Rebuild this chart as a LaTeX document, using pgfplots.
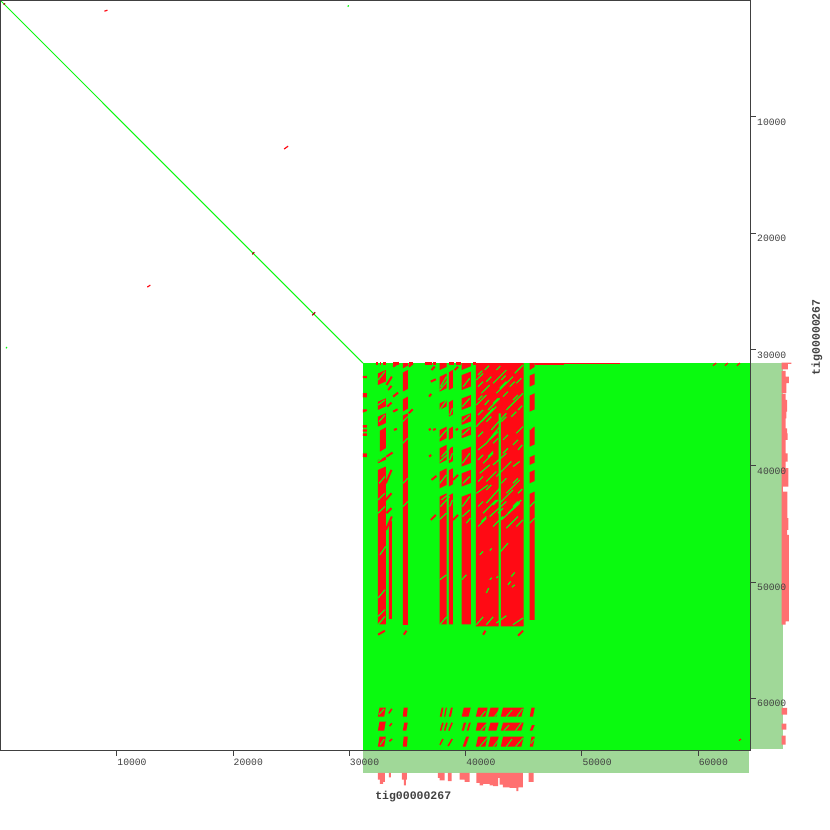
\documentclass[border=0pt]{standalone}
\usepackage{fontspec}
\usepackage{pgfplots}
\pgfplotsset{compat=1.18}
\newfontfamily\tickfont{Liberation Mono}
\definecolor{dotgreen}{HTML}{0AFA0F}
\definecolor{dotred}{HTML}{FF0A14}
\definecolor{panelgreen}{HTML}{A0D898}
\definecolor{histred}{HTML}{FF7070}
\definecolor{framegray}{HTML}{404040}
\begin{document}
\begin{tikzpicture}[x=1pt,y=1pt]
\path[use as bounding box] (0,0) rectangle (830,-830);
\begin{axis}[
at={(0.5pt,-0.5pt)}, anchor=north west,
width=750pt, height=750pt, scale only axis,
xmin=0, xmax=64510, ymin=0, ymax=64490,
y dir=reverse, clip=false, axis on top,
xtick={10000,20000,30000,40000,50000,60000},
ytick={10000,20000,30000,40000,50000,60000},
xtick pos=bottom, ytick pos=right, yticklabel pos=right,
tick align=outside, major tick length=5pt,
scaled ticks=false,
/pgf/number format/1000 sep={},
/pgf/number format/assume math mode=true,
axis line style={framegray,line width=1pt},
tick style={framegray,line width=1pt},
every tick label/.append style={font=\tickfont\fontsize{9.7}{10}\selectfont,text=framegray,inner sep=0pt},
xticklabel style={anchor=north west,xshift=0.5pt,yshift=-3pt},
yticklabel style={anchor=north west,xshift=1.5pt,yshift=-2pt},
xlabel={tig00000267}, ylabel={tig00000267},
every axis x label/.style={at={(axis description cs:0.5503,-0.062)},anchor=center},
every axis y label/.style={at={(axis description cs:1.0886,0.551)},anchor=center,rotate=90},
label style={font=\tickfont\bfseries\fontsize{11.5}{12}\selectfont,text=framegray},
unbounded coords=jump,
]
% side panels
\addplot[fill=panelgreen,draw=none] coordinates {(64520,31170)(67275,31170)(67275,64330)(64520,64330)};
\addplot[fill=panelgreen,draw=none] coordinates {(31170,64520)(64350,64520)(64350,66440)(31170,66440)};
% coverage along x
\addplot[fill=histred,draw=none] coordinates {
(32460,66420)(32460,66990)(32630,66990)(32630,67360)(32910,67360)(32910,67190)(33060,67190)(33060,66420)(nan,nan)
(33400,66420)(33400,66790)(33570,66790)(33570,66420)(nan,nan)
(34520,66420)(34520,66990)(34690,66990)(34690,67480)(34860,67480)(34860,66990)(34950,66990)(34950,66420)(nan,nan)
(37610,66420)(37610,66850)(37780,66850)(37780,67050)(38210,67050)(38210,66420)(nan,nan)
(38470,66420)(38470,67130)(38810,67130)(38810,66420)(nan,nan)
(39500,66420)(39500,66990)(39930,66990)(39930,67190)(40360,67190)(40360,66420)(nan,nan)
(40930,66420)(40930,67280)(41220,67280)(41220,67480)(41510,67480)(41510,67360)(42080,67360)(42080,67480)(42370,67480)(42370,67560)(42800,67560)(42800,66850)(42940,66850)(42940,67420)(43220,67420)(43220,67650)(43800,67650)(43800,67710)(44370,67710)(44370,67990)(44540,67990)(44540,67650)(44940,67650)(44940,66420)(nan,nan)
(45430,66420)(45430,67190)(45860,67190)(45860,66420)
};
% coverage along y
\addplot[fill=histred,draw=none] coordinates {
(67190,31130)(68020,31130)(68020,31250)(67730,31250)(67730,31710)(67190,31710)(nan,nan)
(67190,31850)(67530,31850)(67530,32340)(67820,32340)(67820,32910)(67590,32910)(67590,33770)(67190,33770)(nan,nan)
(67190,33830)(67530,33830)(67530,34340)(67650,34340)(67650,35350)(67590,35350)(67590,35920)(67530,35920)(67530,36780)(67650,36780)(67650,37210)(67700,37210)(67700,37780)(67530,37780)(67530,38930)(67700,38930)(67700,39640)(67530,39640)(67530,40210)(67760,40210)(67760,41790)(67300,41790)(67300,42220)(67680,42220)(67680,44510)(67760,44510)(67760,45510)(67650,45510)(67650,45940)(67820,45940)(67820,53390)(67530,53390)(67530,53670)(67190,53670)(nan,nan)
(67190,60830)(67650,60830)(67650,61410)(67190,61410)(nan,nan)
(67190,62180)(67590,62180)(67590,62700)(67190,62700)(nan,nan)
(67190,63210)(67530,63210)(67530,63980)(67190,63980)
};
% main diagonal
\addplot[dotgreen,line width=1pt] coordinates {(0,0)(31180,31180)};
% the repeat block
\addplot[fill=dotgreen,draw=none] coordinates {(31170,31170)(64510,31170)(64510,64490)(31170,64490)};
% red blocks
\addplot[fill=dotred,draw=none] coordinates {
(32460,33060)(33140,32760)(33140,31770)(32460,32070)(nan,nan)
(32460,35200)(33140,34900)(33140,34200)(32460,34500)(nan,nan)
(32460,36640)(33140,36340)(33140,35490)(32460,35790)(nan,nan)
(32630,38790)(33140,38490)(33140,36700)(32630,37000)(nan,nan)
(32460,39790)(33140,39490)(33140,39220)(32460,39520)(nan,nan)
(32460,53650)(33140,53650)(33140,40070)(32460,40370)(nan,nan)
(33400,53180)(33660,53180)(33660,44700)(33400,45000)(nan,nan)
(34600,31630)(35030,31400)(35030,31190)(34600,31190)(nan,nan)
(34600,33630)(35030,33400)(35030,31770)(34600,32000)(nan,nan)
(34600,35350)(35030,35100)(35030,34060)(34600,34300)(nan,nan)
(34600,53680)(35030,53680)(35030,35490)(34600,35700)(nan,nan)
(37780,31770)(38380,31500)(38380,31190)(37780,31190)(nan,nan)
(37780,33630)(38380,33330)(38380,32060)(37780,32360)(nan,nan)
(37780,35200)(38380,34900)(38380,34350)(37780,34650)(nan,nan)
(37780,37930)(38380,37630)(38380,36640)(37780,36940)(nan,nan)
(37780,39790)(38380,39490)(38380,38210)(37780,38510)(nan,nan)
(37780,41940)(38380,41640)(38380,40220)(37780,40520)(nan,nan)
(37780,53650)(38380,53650)(38380,42370)(37780,42670)(nan,nan)
(38560,33490)(38900,33300)(38900,31770)(38560,31960)(nan,nan)
(38560,35780)(38900,35590)(38900,34350)(38560,34540)(nan,nan)
(38560,37780)(38900,37590)(38900,36640)(38560,36830)(nan,nan)
(38560,39790)(38900,39600)(38900,38360)(38560,38550)(nan,nan)
(38560,41790)(38900,41600)(38900,40220)(38560,40410)(nan,nan)
(38560,53650)(38900,53650)(38900,42370)(38560,42560)(nan,nan)
(39670,31770)(40450,31450)(40450,31190)(39670,31190)(nan,nan)
(39670,33490)(40450,33190)(40450,31910)(39670,32210)(nan,nan)
(39670,35200)(40450,34900)(40450,33920)(39670,34220)(nan,nan)
(39670,36490)(40450,36190)(40450,35490)(39670,35790)(nan,nan)
(39670,37640)(40450,37340)(40450,36640)(39670,36940)(nan,nan)
(39670,40070)(40450,39770)(40450,38360)(39670,38660)(nan,nan)
(39670,41790)(40450,41490)(40450,40360)(39670,40660)(nan,nan)
(39670,53650)(40450,53650)(40450,42370)(39670,42670)(nan,nan)
(40880,53820)(42840,53820)(42840,31190)(40880,31190)(nan,nan)
(43030,53820)(45000,53820)(45000,31190)(43030,31190)(nan,nan)
(42840,35490)(43030,35490)(43030,31190)(42840,31190)(nan,nan)
(45520,31770)(45950,31500)(45950,31190)(45520,31190)(nan,nan)
(45520,33200)(45950,33000)(45950,32060)(45520,32260)(nan,nan)
(45520,35350)(45950,35150)(45950,33770)(45520,33970)(nan,nan)
(45520,38360)(45950,38160)(45950,36640)(45520,36840)(nan,nan)
(45520,39930)(45950,39730)(45950,39070)(45520,39270)(nan,nan)
(45520,41510)(45950,41310)(45950,40360)(45520,40560)(nan,nan)
(45520,53250)(45950,53250)(45950,42220)(45520,42420)(nan,nan)
(31170,32460)(31510,32460)(31510,32280)(31170,32280)(nan,nan)
(31170,34120)(31510,34120)(31510,33770)(31170,33770)(nan,nan)
(31170,35430)(31510,35300)(31510,35150)(31170,35150)(nan,nan)
(31170,36720)(31510,36720)(31510,36520)(31170,36520)(nan,nan)
(31170,37070)(31510,37070)(31510,36870)(31170,36870)(nan,nan)
(31170,37440)(31510,37440)(31510,37210)(31170,37210)(nan,nan)
(31170,39270)(31510,39270)(31510,38930)(31170,38930)(nan,nan)
(32460,61580)(33000,61580)(33140,60800)(32600,60800)(nan,nan)
(34600,61580)(34950,61580)(35030,60800)(34680,60800)(nan,nan)
(37780,61580)(37950,61580)(38100,60800)(37950,60800)(nan,nan)
(38150,61580)(38250,61580)(38400,60800)(38300,60800)(nan,nan)
(38560,61580)(38750,61580)(38900,60800)(38750,60800)(nan,nan)
(39670,61580)(40250,61580)(40450,60800)(39850,60800)(nan,nan)
(40880,61580)(41700,61580)(41900,60800)(41080,60800)(nan,nan)
(41950,61580)(42650,61580)(42850,60800)(42150,60800)(nan,nan)
(43030,61580)(44800,61580)(45000,60800)(43230,60800)(nan,nan)
(45520,61580)(45800,61580)(45950,60800)(45670,60800)(nan,nan)
(32460,62780)(33000,62780)(33140,62000)(32600,62000)(nan,nan)
(34600,62780)(34900,62780)(35030,62090)(34730,62090)(nan,nan)
(39670,62780)(39850,62780)(40050,62090)(39850,62090)(nan,nan)
(40100,62780)(40250,62780)(40450,62090)(40300,62090)(nan,nan)
(40880,62780)(41650,62780)(41800,62090)(41030,62090)(nan,nan)
(41950,62780)(42650,62780)(42850,62090)(42150,62090)(nan,nan)
(43030,62780)(44800,62780)(45000,62090)(43230,62090)(nan,nan)
(45520,62780)(45750,62780)(45950,62300)(45720,62300)(nan,nan)
(32460,64160)(33000,64160)(33140,63300)(32600,63300)(nan,nan)
(34600,64160)(34950,64160)(35030,63300)(34680,63300)(nan,nan)
(39750,64160)(40000,64160)(40300,63300)(40050,63300)(nan,nan)
(40880,64160)(41700,64160)(41900,63300)(41080,63300)(nan,nan)
(41950,64160)(42650,64160)(42850,63300)(42150,63300)(nan,nan)
(43030,64160)(44800,64160)(45000,63300)(43230,63300)(nan,nan)
(45520,64160)(45800,64160)(45950,63300)(45670,63300)
};
% red strip on the top edge
\addplot[dotred,line width=3pt] coordinates {
(32340,31240)(32480,31240)(nan,nan)(32630,31240)(32770,31240)(nan,nan)(32910,31240)(33140,31240)(nan,nan)
(33770,31240)(34260,31240)(nan,nan)(35120,31240)(35460,31240)(nan,nan)
(36490,31240)(37100,31240)(nan,nan)(37210,31240)(37440,31240)(nan,nan)
(38560,31240)(38990,31240)(nan,nan)(39150,31240)(39590,31240)(nan,nan)(40620,31240)(40880,31240)
};
\addplot[dotred,line width=2pt] coordinates {(45990,31240)(48500,31240)};
\addplot[dotred,line width=1pt] coordinates {(48500,31210)(53270,31210)};
% red streaks
\addplot[dotred,line width=2pt] coordinates {
(33200,33060)(33660,32340)(nan,nan)(33260,34920)(33630,34580)(nan,nan)(33340,33490)(33630,33140)(nan,nan)
(33200,39220)(33720,38870)(nan,nan)(33140,41510)(33630,40360)(nan,nan)(33140,42940)(33630,42370)(nan,nan)
(33200,44080)(33630,43650)(nan,nan)(33140,45520)(33660,44370)(nan,nan)
(33770,31480)(34260,31140)(nan,nan)(33770,34060)(34200,33720)(nan,nan)(33770,35350)(34150,35150)(nan,nan)
(33830,36920)(34090,36840)(nan,nan)(35120,35490)(35460,35150)(nan,nan)(35120,31480)(35460,31200)(nan,nan)
(36870,39220)(37040,39070)(nan,nan)(36870,34060)(37040,33830)(nan,nan)(36840,36920)(37010,36840)(nan,nan)
(37210,36920)(37440,36840)(nan,nan)(39150,36920)(39360,36840)(nan,nan)(37070,41220)(37500,40880)(nan,nan)
(37010,44660)(37440,44230)(nan,nan)(38930,41220)(39360,40790)(nan,nan)(38930,44660)(39360,44230)(nan,nan)
(37010,32770)(37440,32570)(nan,nan)(37070,31770)(37350,31480)(nan,nan)(39070,31770)(39360,31480)(nan,nan)
(32480,54530)(33060,54190)(nan,nan)(34690,54530)(34920,54190)(nan,nan)(41510,54530)(41710,54190)(nan,nan)
(44510,54620)(44940,54190)
};
\addplot[dotred,line width=1.2pt] coordinates {
(8940,920)(9200,830)(nan,nan)(24400,12770)(24740,12520)(nan,nan)(12630,24640)(12890,24470)(nan,nan)
(61280,31400)(61560,31170)(nan,nan)(62310,31400)(62550,31170)(nan,nan)(63340,31400)(63600,31170)(nan,nan)
(63520,63640)(63690,63500)
};
\addplot[dotred!65!black,line width=1.2pt] coordinates {
(260,340)(400,260)(nan,nan)(21650,21830)(21830,21650)(nan,nan)(26810,27060)(27060,26810)
};
\addplot[dotgreen,line width=1.2pt] coordinates {(29860,520)(29960,430)(nan,nan)(470,29900)(560,29800)};
% green diagonals across the red
\addplot[dotgreen,line width=1.2pt] coordinates {
(40930,32630)(41510,32060)(nan,nan)(41360,33770)(42080,33060)(nan,nan)(40930,34780)(41790,33920)(nan,nan)
(42370,32910)(43510,31770)(nan,nan)(42650,33770)(44080,32340)(nan,nan)(41940,35210)(42940,34200)(nan,nan)
(40930,36640)(42370,35060)(nan,nan)(41360,36210)(42650,34920)(nan,nan)(42220,36920)(43510,35490)(nan,nan)
(41080,38640)(41790,38070)(nan,nan)(41510,39790)(42370,38930)(nan,nan)(41790,38070)(42940,36640)(nan,nan)
(42080,37780)(42800,37070)(nan,nan)(42940,33340)(43510,32770)(nan,nan)(44230,32060)(44940,31340)(nan,nan)
(43510,35210)(44940,33770)(nan,nan)(44370,37210)(44940,36640)(nan,nan)(42370,39930)(43510,38930)(nan,nan)
(41220,40650)(42080,39930)(nan,nan)(41790,41360)(42650,40500)(nan,nan)(42650,40930)(43650,39930)(nan,nan)
(44080,40070)(44660,39640)(nan,nan)(40930,42370)(41940,41650)(nan,nan)(41790,43220)(42940,41940)(nan,nan)
(42940,43220)(44080,42080)(nan,nan)(43510,42370)(44660,41220)(nan,nan)(41510,44080)(42650,42940)(nan,nan)
(42080,44370)(43510,43080)(nan,nan)(43080,44660)(44660,43220)(nan,nan)(43650,44080)(44800,42940)(nan,nan)
(41080,45230)(41790,44510)(nan,nan)(42370,45230)(43220,44370)(nan,nan)(43510,45370)(44370,44510)(nan,nan)
(44370,45230)(44940,44660)(nan,nan)
(41080,32200)(41450,31830)(nan,nan)(41650,31770)(42020,31400)(nan,nan)(42650,31770)(42990,31430)(nan,nan)
(41080,33200)(41510,32770)(nan,nan)(41790,32770)(42220,32340)(nan,nan)(43080,32630)(43450,32250)(nan,nan)
(43800,33200)(44230,32770)(nan,nan)(44370,32910)(44800,32480)(nan,nan)(44370,31910)(44710,31570)(nan,nan)
(41080,34350)(41450,33970)(nan,nan)(41650,34780)(42020,34350)(nan,nan)(42370,34630)(42800,34200)(nan,nan)
(43220,34060)(43650,33630)(nan,nan)(44080,34350)(44510,33920)(nan,nan)(41080,35630)(41510,35210)(nan,nan)
(41790,36210)(42220,35780)(nan,nan)(43080,36210)(43510,35780)(nan,nan)(43940,35780)(44370,35350)(nan,nan)
(41080,37500)(41510,37070)(nan,nan)(42370,38070)(42800,37640)(nan,nan)(43220,37780)(43650,37350)(nan,nan)
(44080,38210)(44510,37780)(nan,nan)(41080,39500)(41510,39070)(nan,nan)(41940,39220)(42370,38780)(nan,nan)
(43220,38930)(43650,38500)(nan,nan)(41080,41360)(41510,40930)(nan,nan)(43080,41510)(43510,41080)(nan,nan)
(44080,41510)(44510,41080)(nan,nan)(41080,43510)(41510,43080)(nan,nan)(42370,43370)(42800,42940)(nan,nan)
(44080,43510)(44510,43080)(nan,nan)(41360,44800)(41790,44370)(nan,nan)(42800,44080)(43220,43650)(nan,nan)
(44080,44800)(44510,44370)(nan,nan)(41790,42080)(42220,41650)(nan,nan)(44510,42370)(44880,42000)(nan,nan)
(44510,35210)(44880,34830)(nan,nan)(44510,38640)(44880,38210)(nan,nan)(43510,40070)(43940,39640)(nan,nan)
(41220,47660)(41510,47370)(nan,nan)(43030,47370)(43650,46660)(nan,nan)(42080,47290)(42250,47110)(nan,nan)
(43940,49520)(44230,49180)(nan,nan)(42080,49810)(42250,49630)(nan,nan)(42650,49660)(42800,49520)(nan,nan)
(43650,50240)(43880,49950)(nan,nan)(44000,50440)(44230,50240)(nan,nan)(41790,50950)(41990,50520)(nan,nan)
(32630,47660)(33140,46940)(nan,nan)(32480,51380)(33060,50670)(nan,nan)(32480,52960)(33060,52380)(nan,nan)
(37780,49810)(38360,49380)(nan,nan)(39670,49810)(40070,49380)(nan,nan)
(40930,53670)(41510,53000)(nan,nan)(41790,53670)(42370,53000)(nan,nan)(42650,53530)(43510,52900)(nan,nan)
(44080,53670)(44940,53100)(nan,nan)(32480,53670)(33060,52960)(nan,nan)(37780,53670)(38380,53000)(nan,nan)
(37780,33490)(38500,32630)(nan,nan)(37840,33200)(38360,32340)(nan,nan)(37730,37640)(38360,36920)(nan,nan)
(37780,39640)(38410,39070)(nan,nan)(37930,39220)(38640,38500)(nan,nan)(37780,41510)(38360,40790)(nan,nan)
(37730,44660)(38360,44080)(nan,nan)(37840,43510)(38640,42650)(nan,nan)(37930,42940)(38640,42370)(nan,nan)
(37780,35210)(38360,34350)(nan,nan)(38640,35640)(38870,35060)(nan,nan)(38640,39500)(38870,38930)(nan,nan)
(38640,43510)(38870,42940)(nan,nan)
(39790,33200)(40360,32480)(nan,nan)(39730,34920)(40360,34200)(nan,nan)(39730,36210)(40360,35640)(nan,nan)
(39730,37350)(40360,36780)(nan,nan)(39730,39790)(40360,38930)(nan,nan)(39790,41510)(40360,40930)(nan,nan)
(39730,43510)(40360,42650)(nan,nan)(39730,44370)(40360,43800)(nan,nan)(40070,44940)(40420,44510)(nan,nan)
(32480,32630)(33060,31910)(nan,nan)(32480,34780)(33060,34350)(nan,nan)(32570,36210)(33060,35640)(nan,nan)
(32480,39640)(32910,39220)(nan,nan)(32570,41510)(33060,40930)(nan,nan)(32480,42940)(33060,42370)(nan,nan)
(32480,44080)(33060,43510)(nan,nan)
(45520,36920)(45950,36490)(nan,nan)(45520,42080)(45950,41650)(nan,nan)(45520,43510)(45950,43080)(nan,nan)
(45520,44940)(45950,44510)(nan,nan)
(34600,36210)(35030,35780)(nan,nan)(34600,38070)(35030,37640)(nan,nan)(34630,41510)(35030,41080)(nan,nan)
(34630,43510)(35030,43080)
};
% diagonals in the lower blocks
\addplot[dotgreen,line width=1pt] coordinates {
(41300,61580)(41700,61100)(nan,nan)(42500,61580)(43000,60900)(nan,nan)(43500,61580)(44000,61000)(nan,nan)(44400,61580)(44900,60900)(nan,nan)
(32550,61400)(33000,60900)(nan,nan)(41300,62780)(41800,62200)(nan,nan)(43300,62780)(43750,62300)(nan,nan)(44300,62780)(44800,62100)(nan,nan)
(41200,64160)(41950,63300)(nan,nan)(42400,64160)(42950,63400)(nan,nan)(43500,64160)(44000,63500)(nan,nan)(44300,64160)(44950,63400)(nan,nan)
(32650,64000)(33000,63500)(nan,nan)(45600,63900)(45900,63500)
};
% streaks in rows 2 and 3
\addplot[dotred,line width=1.5pt] coordinates {
(37850,62780)(38050,62100)(nan,nan)(38200,62780)(38400,62100)(nan,nan)(38560,62780)(38850,62100)(nan,nan)
(37800,64000)(38050,63500)(nan,nan)(38500,64100)(38850,63500)(nan,nan)(33460,62400)(33660,62150)(nan,nan)
(33400,61300)(33660,60900)(nan,nan)(33450,63700)(33680,63500)
};
\end{axis}
\end{tikzpicture}
\end{document}
